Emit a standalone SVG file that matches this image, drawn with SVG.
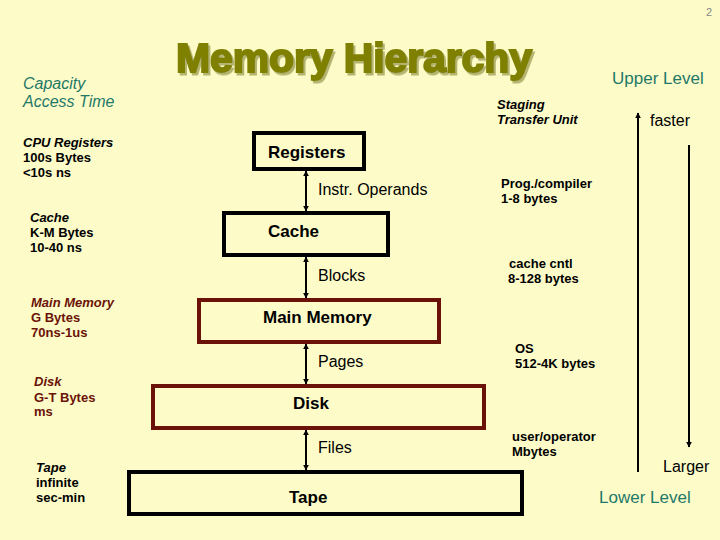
<svg xmlns="http://www.w3.org/2000/svg" width="720" height="540" viewBox="0 0 720 540">
<defs>
<marker id="ah" viewBox="0 0 10 10" refX="9" refY="5" markerWidth="6" markerHeight="6" orient="auto-start-reverse" markerUnits="userSpaceOnUse">
<path d="M0,0 L10,5 L0,10 z" fill="#000"/>
</marker>
<filter id="shadow" x="-5%" y="-20%" width="110%" height="150%">
<feDropShadow dx="2" dy="2.5" stdDeviation="0.3" flood-color="#b4b46e" flood-opacity="1"/>
</filter>
<style>
text{font-family:"Liberation Sans",Arial,sans-serif;}
.sm{font-size:13px;font-weight:bold;fill:#000;}
.it{font-style:italic;}
.br{fill:#6b1208;}
.lbl{font-size:17px;font-weight:bold;fill:#000;}
.cl{font-size:16px;fill:#000;}
.teal{fill:#1f7868;}
.box{fill:none;stroke-width:4;}
.blk{stroke:#000;}
.brs{stroke:#6b1208;}
.con{stroke:#000;stroke-width:2;fill:none;}
</style>
</defs>
<rect width="720" height="540" fill="#fdfcc9"/>
<text x="706" y="16" font-size="11" fill="#888">2</text>
<g id="title">
<text x="176" y="72" font-size="41" font-weight="bold" fill="#808000" stroke="#808000" stroke-width="2" textLength="356" filter="url(#shadow)">Memory Hierarchy</text>
</g>
<g id="left-labels">
<text x="23" y="89" font-size="16" class="it teal">Capacity</text>
<text x="23" y="107" font-size="16" class="it teal">Access Time</text>
<text x="23" y="147" class="sm it">CPU Registers</text>
<text x="23" y="162" class="sm">100s Bytes</text>
<text x="23" y="177" class="sm">&lt;10s ns</text>
<text x="30" y="222" class="sm it">Cache</text>
<text x="30" y="237" class="sm">K-M Bytes</text>
<text x="30" y="252" class="sm">10-40 ns</text>
<text x="31" y="307" class="sm it br">Main Memory</text>
<text x="31" y="322" class="sm br">G Bytes</text>
<text x="31" y="337" class="sm br">70ns-1us</text>
<text x="34" y="386" class="sm it br">Disk</text>
<text x="34" y="402" class="sm br">G-T Bytes</text>
<text x="34" y="416" class="sm br">ms</text>
<text x="36" y="472" class="sm it">Tape</text>
<text x="36" y="487" class="sm">infinite</text>
<text x="36" y="502" class="sm">sec-min</text>
</g>
<g id="connectors">
<line x1="306" y1="171" x2="306" y2="211" class="con" marker-start="url(#ah)" marker-end="url(#ah)"/>
<line x1="306" y1="257" x2="306" y2="298" class="con" marker-start="url(#ah)" marker-end="url(#ah)"/>
<line x1="306" y1="344" x2="306" y2="384" class="con" marker-start="url(#ah)" marker-end="url(#ah)"/>
<line x1="306" y1="430" x2="306" y2="470" class="con" marker-start="url(#ah)" marker-end="url(#ah)"/>
<text x="318" y="195" class="cl">Instr. Operands</text>
<text x="318" y="281" class="cl">Blocks</text>
<text x="318" y="367" class="cl">Pages</text>
<text x="318" y="453" class="cl">Files</text>
</g>
<g id="registers"><rect x="254" y="133" width="110" height="36" class="box blk"/><text x="268" y="158" class="lbl">Registers</text></g>
<g id="cache"><rect x="224" y="213" width="164" height="42" class="box blk"/><text x="268" y="237" class="lbl">Cache</text></g>
<g id="main-memory"><rect x="199" y="300" width="240" height="42" class="box brs"/><text x="263" y="323" class="lbl">Main Memory</text></g>
<g id="disk"><rect x="153" y="386" width="331" height="42" class="box brs"/><text x="293" y="409" class="lbl">Disk</text></g>
<g id="tape"><rect x="129" y="472" width="393" height="42" class="box blk"/><text x="289" y="503" class="lbl">Tape</text></g>
<g id="right-labels">
<text x="497" y="109" class="sm it">Staging</text>
<text x="497" y="124" class="sm it">Transfer Unit</text>
<text x="501" y="188" class="sm">Prog./compiler</text>
<text x="501" y="203" class="sm">1-8 bytes</text>
<text x="509" y="268" class="sm">cache cntl</text>
<text x="508" y="283" class="sm">8-128 bytes</text>
<text x="515" y="353" class="sm">OS</text>
<text x="515" y="368" class="sm">512-4K bytes</text>
<text x="512" y="441" class="sm">user/operator</text>
<text x="512" y="456" class="sm">Mbytes</text>
</g>
<g id="level-axis">
<line x1="638" y1="472" x2="638" y2="113" class="con" marker-end="url(#ah)"/>
<line x1="689" y1="145" x2="689" y2="447" class="con" marker-end="url(#ah)"/>
<text x="612" y="84" font-size="17" class="teal">Upper Level</text>
<text x="650" y="126" class="cl">faster</text>
<text x="663" y="472" class="cl">Larger</text>
<text x="599" y="503" font-size="17" class="teal">Lower Level</text>
</g>
</svg>
